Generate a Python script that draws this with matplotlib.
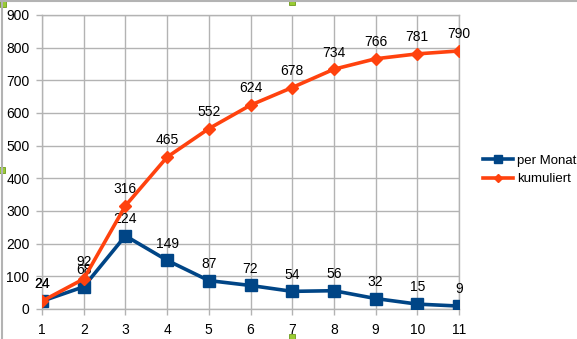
import matplotlib.pyplot as plt
from matplotlib.patches import Rectangle
from matplotlib.lines import Line2D

months = [1, 2, 3, 4, 5, 6, 7, 8, 9, 10, 11]
per_monat = [24, 68, 224, 149, 87, 72, 54, 56, 32, 15, 9]
kumuliert = [24, 92, 316, 465, 552, 624, 678, 734, 766, 781, 790]

blue = '#004586'
orange = '#ff420e'
grid = '#b3b3b3'

plt.rcParams['font.family'] = ['Liberation Sans', 'DejaVu Sans']

fig = plt.figure(figsize=(5.77, 3.39), dpi=100)
W, H = 577, 339
ax = fig.add_axes([42 / W, 1 - 309 / H, (459 - 42) / W, (309 - 15) / H])

ax.plot(months, per_monat, color=blue, lw=2.6, marker='s', ms=8.5, label='per Monat', zorder=3)
ax.plot(months, kumuliert, color=orange, lw=2.6, marker='D', ms=6, label='kumuliert', zorder=4)

for x, y in zip(months, per_monat):
    ax.annotate(str(y), (x, y), xytext=(0, 7), textcoords='offset points',
                ha='center', va='bottom', fontsize=10, color='black')
for x, y in zip(months, kumuliert):
    ax.annotate(str(y), (x, y), xytext=(0, 7), textcoords='offset points',
                ha='center', va='bottom', fontsize=10, color='black')

ax.set_xlim(1, 11)
ax.set_ylim(0, 900)
ax.set_xticks(months)
ax.set_yticks(range(0, 1000, 100))
ax.grid(True, color=grid, lw=1)
ax.set_axisbelow(True)
for s in ax.spines.values():
    s.set_color(grid)
    s.set_linewidth(1)
ax.tick_params(colors=grid, labelcolor='black', labelsize=10, length=4, width=1)
ax.tick_params(axis='y', pad=5)
ax.tick_params(axis='x', pad=6)

handles = [Line2D([], [], color=blue, lw=2.6, marker='s', ms=6),
           Line2D([], [], color=orange, lw=2.6, marker='D', ms=4.5)]
fig.legend(handles, ['per Monat', 'kumuliert'], loc='center left',
           bbox_to_anchor=(483 / W, 1 - 170 / H), frameon=False, fontsize=9.5,
           borderaxespad=0, borderpad=0,
           handlelength=2.3, handletextpad=0.25, labelspacing=0.45)

# outer frame and selection handles
fig.add_artist(Line2D([0, 1], [1 - 0.5 / H, 1 - 0.5 / H], color='#b3b3b3', lw=1.5))
fig.add_artist(Line2D([1.5 / W, 1.5 / W], [0, 1], color='#b3b3b3', lw=1.5))
for hx, hy in [(3, 4), (292, 2), (2, 170), (292, 337)]:
    fig.add_artist(Rectangle(((hx - 3) / W, 1 - (hy + 3) / H), 6 / W, 6 / H,
                             facecolor='#99cc33', edgecolor='#5a8a00', lw=0.5))

fig.savefig('out.png', dpi=100)
